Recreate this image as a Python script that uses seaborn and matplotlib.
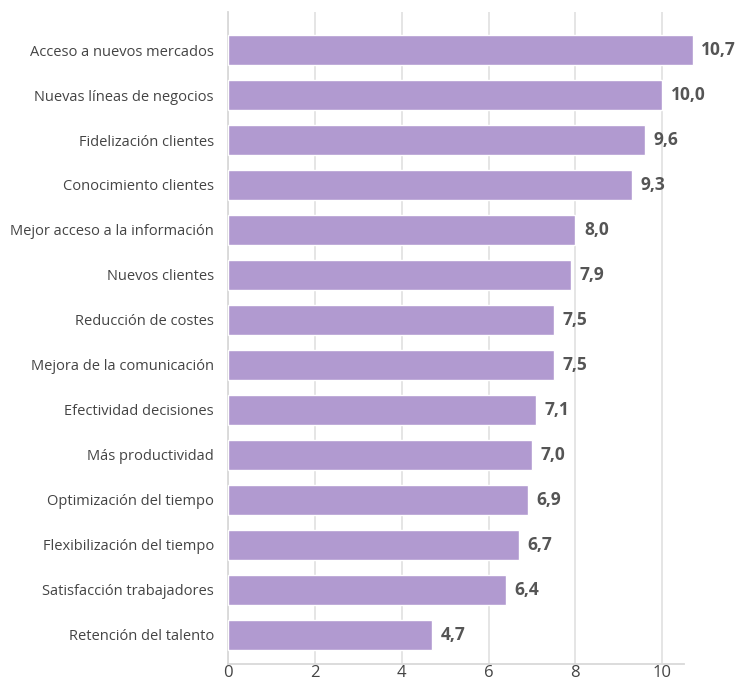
import matplotlib
matplotlib.use("Agg")
import matplotlib.pyplot as plt
import seaborn as sns
import pandas as pd

categories = [
    "Acceso a nuevos mercados",
    "Nuevas líneas de negocios",
    "Fidelización clientes",
    "Conocimiento clientes",
    "Mejor acceso a la información",
    "Nuevos clientes",
    "Reducción de costes",
    "Mejora de la comunicación",
    "Efectividad decisiones",
    "Más productividad",
    "Optimización del tiempo",
    "Flexibilización del tiempo",
    "Satisfacción trabajadores",
    "Retención del talento",
]
values = [10.7, 10.0, 9.6, 9.3, 8.0, 7.9, 7.5, 7.5, 7.1, 7.0, 6.9, 6.7, 6.4, 4.7]
x_ticks = [0, 2, 4, 6, 8, 10]

df = pd.DataFrame({"categoria": categories, "valor": values})

sns.set_style("white")
plt.rcParams["font.family"] = ["Open Sans", "DejaVu Sans"]

fig = plt.figure(figsize=(7.47, 6.82), dpi=100)
ax = fig.add_axes([0.305, 0.027, 0.6107, 0.955])

sns.barplot(data=df, x="valor", y="categoria", orient="h", color="#b19ad0",
            saturation=1, width=0.67, ax=ax, zorder=3)
for p in ax.patches:
    p.set_clip_on(False)

ax.set_xlim(0, 10.5)
ax.set_ylim(len(categories) - 1 + 0.64, -0.84)
ax.set_xticks(x_ticks)
ax.set_xticklabels([str(t) for t in x_ticks])
ax.set_xlabel("")
ax.set_ylabel("")

ax.grid(axis="x", color="#e3e3e3", linewidth=1.3, zorder=0)
ax.grid(axis="y", visible=False)
for side in ["top", "right"]:
    ax.spines[side].set_visible(False)
for side in ["left", "bottom"]:
    ax.spines[side].set_color("#d9d9d9")
    ax.spines[side].set_linewidth(1.3)

ax.tick_params(axis="y", length=0, pad=10, labelsize=10.5, labelcolor="#444444")
ax.tick_params(axis="x", length=0, pad=1, labelsize=12, labelcolor="#444444")

for i, v in enumerate(values):
    ax.text(v + 0.2, i, f"{v:.1f}".replace(".", ","), va="center", ha="left",
            fontsize=12.5, fontweight="bold", fontstretch="normal",
            color="#555555", clip_on=False)

fig.savefig("out.png", dpi=100)
